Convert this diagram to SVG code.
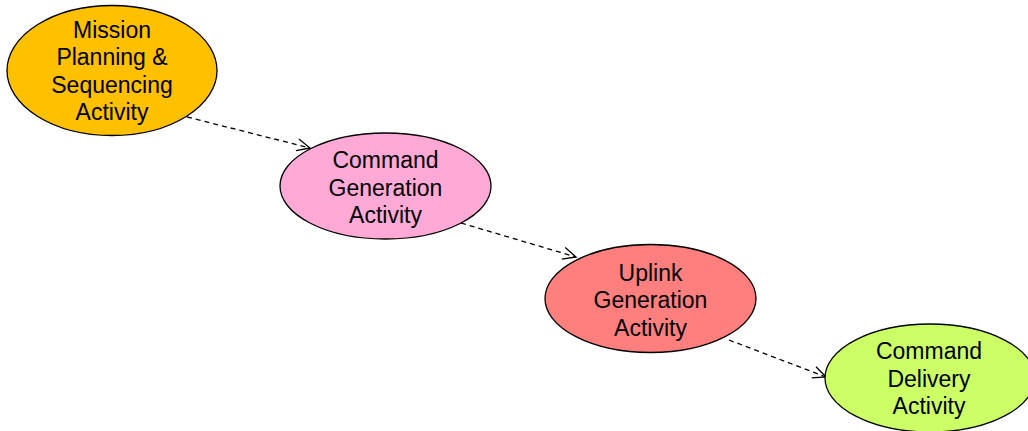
<svg xmlns="http://www.w3.org/2000/svg" width="1028" height="431" viewBox="0 0 1028 431">
<defs>
<style>
.node ellipse{stroke:#000;stroke-width:1.3}
.node text{font-family:"Liberation Sans",Arial,sans-serif;font-size:23px;fill:#000;text-anchor:middle}
.conn line{stroke:#000;stroke-width:1.3;stroke-dasharray:5,4;fill:none}
</style>
<marker id="arr" markerWidth="18" markerHeight="14" refX="14" refY="7" orient="auto" markerUnits="userSpaceOnUse">
<path d="M1,1 L14,7 L1,13" fill="none" stroke="#000" stroke-width="1.3"/>
</marker>
</defs>
<rect width="1028" height="431" fill="#fff"/>
<g id="connectors" class="conn">
<line x1="187" y1="117" x2="310" y2="148" marker-end="url(#arr)"/>
<line x1="461" y1="223" x2="576" y2="257" marker-end="url(#arr)"/>
<line x1="729" y1="340" x2="826" y2="377" marker-end="url(#arr)"/>
</g>
<g id="mission-planning" class="node">
<ellipse cx="112" cy="70.5" rx="105" ry="65" fill="#FFC000"/>
<text x="112" y="37.5">Mission</text>
<text x="112" y="65">Planning &amp;</text>
<text x="112" y="92.5">Sequencing</text>
<text x="112" y="120">Activity</text>
</g>
<g id="command-generation" class="node">
<ellipse cx="385.5" cy="186" rx="105.5" ry="53" fill="#FFAAD6"/>
<text x="385.5" y="168">Command</text>
<text x="385.5" y="195.5">Generation</text>
<text x="385.5" y="223">Activity</text>
</g>
<g id="uplink-generation" class="node">
<ellipse cx="650.5" cy="298.5" rx="105.5" ry="54" fill="#FF7F7F"/>
<text x="650.5" y="280.5">Uplink</text>
<text x="650.5" y="308">Generation</text>
<text x="650.5" y="335.5">Activity</text>
</g>
<g id="command-delivery" class="node">
<ellipse cx="930" cy="378" rx="105" ry="54" fill="#CCFF66"/>
<text x="929" y="359">Command</text>
<text x="929" y="386.5">Delivery</text>
<text x="929" y="414">Activity</text>
</g>
</svg>
